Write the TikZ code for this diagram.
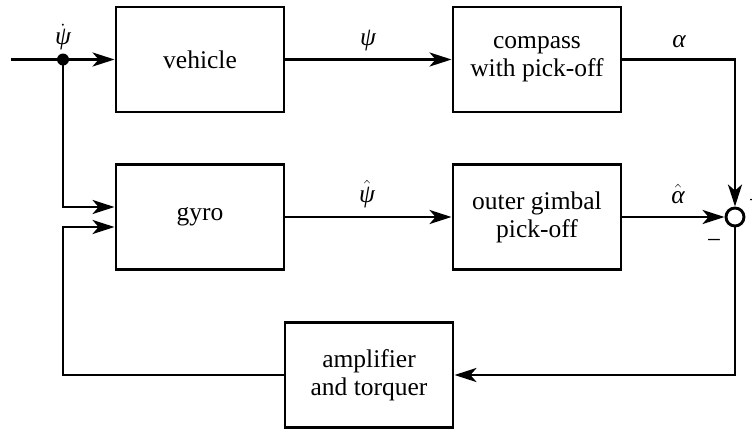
\documentclass[tikz,border=0pt]{standalone}
\usepackage{fontspec}
\setmainfont{Liberation Serif}
\usetikzlibrary{arrows.meta,calc}
\newcommand{\gpsi}{\hbox{\itshape ψ}}
\newcommand{\galpha}{\hbox{\itshape α}}
\begin{document}
\begin{tikzpicture}[x=1pt,y=-1pt,
  every node/.style={font=\fontsize{25.5}{28}\selectfont},
  block/.style={draw,line width=2.9pt,minimum width=168pt,minimum height=105pt,
    inner sep=0pt,align=center},
  wire/.style={line width=2.9pt},
  sig/.style={wire,-{Stealth[length=22pt,width=14pt,inset=6pt]}},
  lbl/.style={inner sep=0pt}]
\useasboundingbox (0,0) rectangle (752,432);

% blocks
\node[block] (veh) at (200,59.5) {vehicle};
\node[block] (cmp) at (537,59.5) {compass\\with pick-off};
\node[block] (gyr) at (200,217) {gyro};
\node[block] (ogp) at (537,217) {outer gimbal\\pick-off};
\node[block] (amp) at (369,375) {amplifier\\and torquer};
\node[draw,circle,line width=2.9pt,minimum size=18pt,inner sep=0pt] (sum) at (735,217) {};

% input and branch point
\coordinate (in) at (11,59.5);
\coordinate (br) at (63,59.5);
\coordinate (g1) at ([yshift=10pt]gyr.west);
\coordinate (g2) at ([yshift=-10pt]gyr.west);

% connectors
\draw[sig] (in) -- (veh.west);
\draw[sig] (br) |- (g1);
\fill (br) circle (6pt);
\draw[sig] (veh.east) -- (cmp.west);
\draw[sig] (cmp.east) -| (sum.north);
\draw[sig] (gyr.east) -- (ogp.west);
\draw[sig] (ogp.east) -- (sum.west);
\draw[sig] (sum.south) |- (amp.east);
\draw[sig] (amp.west) -| (br |- g2) -- (g2);

% signal labels
\node[lbl] (l1) at (63,37) {$\dot{\gpsi}$};
\node[lbl] (l2) at (368,41) {\gpsi};
\node[lbl] (l3) at (679,42) {\galpha};
\node[lbl] (l4) at (367,194) {$\hat{\gpsi}$};
\node[lbl] (l5) at (678,194) {$\hat{\galpha}$};
\node[lbl] (m1) at (714,244) {−};
\node[lbl] (p1) at (756,201) {+};
\end{tikzpicture}
\end{document}
